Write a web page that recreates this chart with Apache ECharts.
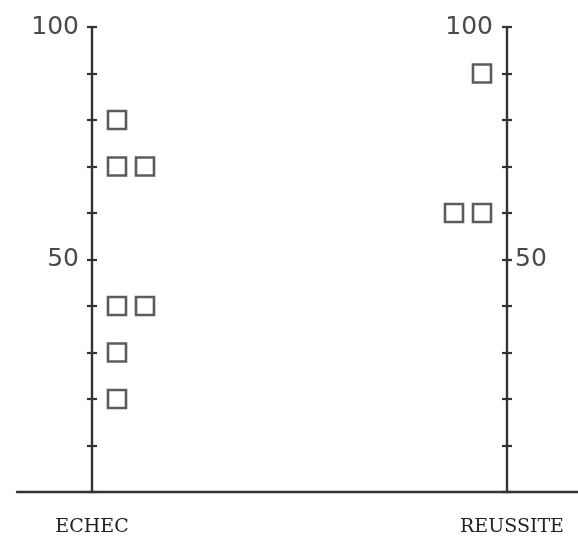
<!DOCTYPE html>
<html>
<head>
<meta charset="utf-8">
<script src="https://cdn.jsdelivr.net/npm/echarts@6/dist/echarts.min.js"></script>
<style>html,body{margin:0;padding:0;background:#fff}#c{width:578px;height:539px}</style>
</head>
<body>
<div id="c"></div>
<script>
// ---- data ----
var groups = ['ECHEC', 'REUSSITE'];
var echecValues = [80, 70, 70, 40, 40, 30, 20];
var reussiteValues = [90, 60, 60];
var yTicks = { min: 0, max: 100, interval: 10 };
var leftTickLabels = [50, 100];
var rightOuterTickLabels = [50];
var rightInnerTickLabels = [100];

// ---- layout ----
var INK = '#333';
var gridLeft = 17, gridRight = 0, gridTop = 27, gridBottom = 47;
var axisLeftPx = 92, axisRightPx = 507, W = 578;
var span = axisRightPx - axisLeftPx;
var xMin = -(axisLeftPx - gridLeft) / span;
var xMax = 1 + (W - gridRight - axisRightPx) / span;
var firstOff = 25 / span, stepOff = 28 / span;

function placeSide(values, groupIdx, dir) {
  var seen = {};
  return values.map(function (v) {
    var k = seen[v] || 0; seen[v] = k + 1;
    return [groupIdx + dir * (firstOff + k * stepOff), v];
  });
}

var labelFont = { fontFamily: 'DejaVu Sans', fontSize: 25, color: '#4a4a4a' };
function fmt(list) { return function (v) { return list.indexOf(v) >= 0 ? String(v) : ''; }; }

var tickStyle = { color: INK, width: 2.2 };
function yAx(pos, offset, opts) {
  var base = {
    type: 'value', position: pos, offset: offset,
    min: yTicks.min, max: yTicks.max, interval: yTicks.interval,
    splitLine: { show: false },
    axisLine: { show: false, onZero: false },
    axisTick: { show: true, length: 5, lineStyle: tickStyle },
    axisLabel: { show: false }
  };
  return Object.assign(base, opts);
}
var axisLineOn = { show: true, onZero: false, lineStyle: { color: INK, width: 2.4 } };

var nameStyle = { fontFamily: 'DejaVu Serif', fontSize: 19, color: '#222' };

var option = {
  animation: false,
  backgroundColor: '#fff',
  grid: { left: gridLeft, right: gridRight, top: gridTop, bottom: gridBottom },
  xAxis: {
    type: 'value', min: xMin, max: xMax,
    axisLine: { show: true, onZero: false, lineStyle: { color: INK, width: 2.4 } },
    axisTick: { show: false }, axisLabel: { show: false }, splitLine: { show: false }
  },
  yAxis: [
    yAx('left', -(axisLeftPx - gridLeft), {
      axisLine: axisLineOn,
      axisLabel: Object.assign({ show: true, margin: 13, formatter: fmt(leftTickLabels) }, labelFont),
      name: groups[0], nameLocation: 'start', nameGap: 26,
      nameTextStyle: nameStyle
    }),
    yAx('left', -(axisLeftPx - gridLeft), { axisTick: { show: true, inside: true, length: 5, lineStyle: tickStyle } }),
    yAx('right', -(W - gridRight - axisRightPx), {
      axisLine: axisLineOn,
      axisLabel: Object.assign({ show: true, margin: 8, formatter: fmt(rightOuterTickLabels) }, labelFont),
      name: groups[1], nameLocation: 'start', nameGap: 26,
      nameTextStyle: Object.assign({ padding: [0, 0, 0, 10] }, nameStyle)
    }),
    yAx('right', -(W - gridRight - axisRightPx), {
      axisTick: { show: true, inside: true, length: 5, lineStyle: tickStyle },
      axisLabel: Object.assign({ show: true, inside: true, margin: 14, formatter: fmt(rightInnerTickLabels) }, labelFont)
    })
  ],
  series: [
    {
      name: groups[0], type: 'scatter', yAxisIndex: 0,
      symbol: 'rect', symbolSize: 18,
      itemStyle: { color: 'rgba(255,255,255,0)', borderColor: INK, borderWidth: 2.6 },
      data: placeSide(echecValues, 0, 1)
    },
    {
      name: groups[1], type: 'scatter', yAxisIndex: 0,
      symbol: 'rect', symbolSize: 18,
      itemStyle: { color: 'rgba(255,255,255,0)', borderColor: INK, borderWidth: 2.6 },
      data: placeSide(reussiteValues, 1, -1)
    }
  ]
};
echarts.init(document.getElementById('c')).setOption(option);
</script>
</body>
</html>
